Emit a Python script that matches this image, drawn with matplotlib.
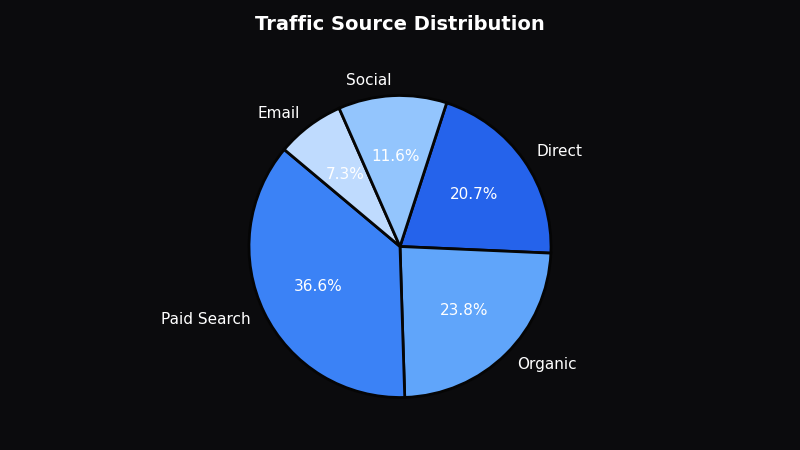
import matplotlib.pyplot as plt

labels = ["Direct", "Organic", "Paid Search", "Email", "Social"]
shares = [20.7, 23.8, 36.6, 7.3, 11.6]
colors = ["#2563eb", "#60a5fa", "#3b82f6", "#bfdbfe", "#93c5fd"]

bg = "#0b0b0d"

fig = plt.figure(figsize=(8, 4.5), dpi=100, facecolor=bg)
ax = fig.add_axes([0, 0, 1, 1])
ax.set_facecolor(bg)

ax.pie(
    shares,
    labels=labels,
    colors=colors,
    autopct="%1.1f%%",
    startangle=72,
    counterclock=False,
    wedgeprops=dict(edgecolor="#050505", linewidth=2),
    textprops=dict(color="white", fontsize=11),
)

# one data unit = 151 px, pie centre at (400, 246.5) from top-left
u = 151
ax.set_xlim(-400 / u, 400 / u)
ax.set_ylim(-203.5 / u, 246.5 / u)
ax.set_aspect("equal")
ax.axis("off")

fig.text(0.5, 1 - 24 / 450, "Traffic Source Distribution", color="white",
         fontsize=14, fontweight="bold", ha="center", va="center")

fig.savefig("out.png", facecolor=bg)
